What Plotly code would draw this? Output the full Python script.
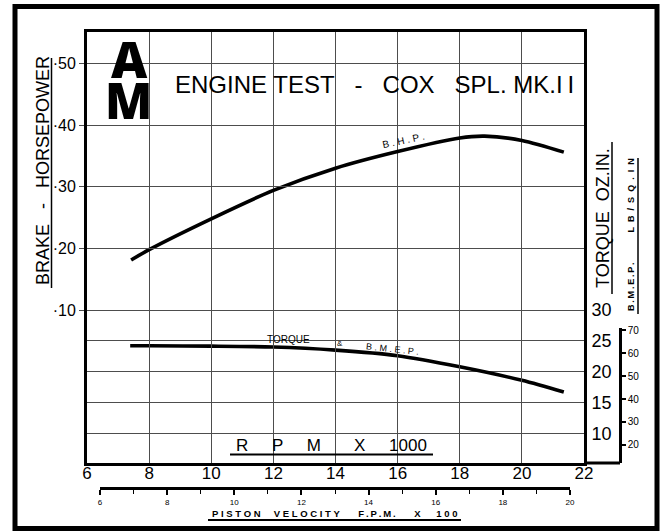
import plotly.graph_objects as go

# ---------------- data ----------------
rpm_bhp = [7.42, 8, 10, 12, 14, 16, 18, 18.8, 20, 21.35]
bhp = [0.181, 0.198, 0.248, 0.294, 0.330, 0.357, 0.379, 0.382, 0.375, 0.356]
rpm_torque = [7.39, 8, 10, 12, 14, 16, 18, 20, 21.35]
torque = [24.2, 24.2, 24.15, 24.0, 23.5, 22.6, 20.8, 18.6, 16.7]

rpm_ticks = [6, 8, 10, 12, 14, 16, 18, 20, 22]
bhp_ticks = [0.1, 0.2, 0.3, 0.4, 0.5]
bhp_labels = ["·10", "·20", "·30", "·40", "·50"]
torque_ticks = [10, 15, 20, 25, 30]
bmep_ticks = [20, 30, 40, 50, 60, 70]
piston_ticks = [6, 8, 10, 12, 14, 16, 18, 20]

# ---------------- geometry helpers (pixels -> paper) ----------------
W, H = 667, 531
L, R, T, B = 87, 620, 32, 488


def px(x):
    return (x - L) / (R - L)


def py(y):
    return (B - y) / (B - T)


FONT = "Liberation Sans, Arial, sans-serif"
GRID = "#4d4d4d"
NOBG = "rgba(0,0,0,0)"

fig = go.Figure()

fig.add_trace(go.Scatter(x=rpm_bhp, y=bhp, mode="lines",
                         line=dict(color="black", width=3.6, shape="spline", smoothing=0.8),
                         hoverinfo="skip", showlegend=False))
fig.add_trace(go.Scatter(x=rpm_torque, y=torque, mode="lines", yaxis="y2",
                         line=dict(color="black", width=3.6, shape="spline", smoothing=0.8),
                         hoverinfo="skip", showlegend=False))
# invisible carriers for the auxiliary scales
fig.add_trace(go.Scatter(x=[rpm_ticks[0], rpm_ticks[0]], y=[bmep_ticks[0], bmep_ticks[-1]],
                         yaxis="y3", mode="markers", marker=dict(opacity=0),
                         hoverinfo="skip", showlegend=False))
fig.add_trace(go.Scatter(x=[piston_ticks[0], piston_ticks[-1]], y=[bhp_ticks[0], bhp_ticks[0]],
                         xaxis="x2", mode="markers", marker=dict(opacity=0),
                         hoverinfo="skip", showlegend=False))

y_lo, y_hi = -0.148, 0.5508

fig.update_layout(
    width=W, height=H, autosize=False,
    margin=dict(l=L, r=W - R, t=T, b=H - B, pad=0),
    paper_bgcolor="white", plot_bgcolor=NOBG,
    showlegend=False,
    font=dict(family=FONT, color="black"),
    xaxis=dict(domain=[0, px(584)], range=[6, 22], anchor="y",
               tickvals=rpm_ticks, ticktext=[str(v) for v in rpm_ticks],
               showgrid=True, gridcolor=GRID, gridwidth=1.4,
               showline=True, linecolor="black", linewidth=3, mirror=True,
               ticks="", ticklabelstandoff=-7,
               tickfont=dict(size=17, family=FONT), zeroline=False),
    yaxis=dict(domain=[py(463), 1], range=[y_lo, y_hi], anchor="x",
               tickvals=bhp_ticks, ticktext=bhp_labels,
               showgrid=True, gridcolor=GRID, gridwidth=1.4,
               showline=True, linecolor="black", linewidth=3,
               ticks="outside", ticklen=5, tickcolor=GRID, tickwidth=1.4,
               ticklabelstandoff=0,
               tickfont=dict(size=16, family=FONT), zeroline=False),
    yaxis2=dict(overlaying="y", side="right", anchor="x",
                range=[20 + 100 * y_lo, 20 + 100 * y_hi],
                tickvals=torque_ticks, ticktext=[str(v) for v in torque_ticks],
                showgrid=True, gridcolor=GRID, gridwidth=1.4,
                showline=True, linecolor="black", linewidth=3,
                ticks="", ticklabelstandoff=1,
                tickfont=dict(size=18, family=FONT), zeroline=False),
    yaxis3=dict(domain=[py(463), py(328)], anchor="free", position=1, side="right",
                range=[12.17, 70.87], tickvals=bmep_ticks,
                ticktext=[str(v) for v in bmep_ticks],
                showgrid=False, showline=True, linecolor="black", linewidth=2.5,
                ticks="outside", ticklen=4, tickwidth=1.5, tickcolor="black",
                ticklabelstandoff=0,
                tickfont=dict(size=10, family=FONT), zeroline=False),
    xaxis2=dict(domain=[px(100), px(570)], anchor="free", position=0,
                range=[6, 20], tickvals=piston_ticks,
                ticktext=[str(v) for v in piston_ticks],
                showgrid=False, showline=True, linecolor="black", linewidth=3,
                ticks="outside", ticklen=5, tickwidth=1.5, tickcolor="black",
                minor=dict(dtick=1, ticklen=4, tickwidth=1.3, tickcolor="black", ticks="outside"),
                ticklabelstandoff=0,
                tickfont=dict(size=8, family=FONT), zeroline=False),
)

nb = "\u00a0"
th = "\u2009"
ann = []


def spaced(word, sep):
    return sep.join(word)


def add_text(text, x, y, size, **kw):
    d = dict(text=text, x=px(x), y=py(y), xref="paper", yref="paper",
             showarrow=False, xanchor="center", yanchor="middle",
             font=dict(size=size, family=kw.pop("family", FONT), color="black",
                       weight=kw.pop("weight", "normal")))
    d.update(kw)
    ann.append(d)


# logo + title
add_text("A", 129, 59, 50, family="Noto Sans, DejaVu Sans, sans-serif", weight=900)
add_text("M", 128, 99.5, 49, family="Noto Sans, DejaVu Sans, sans-serif", weight=900)
add_text(f"ENGINE TEST{nb*3}-{nb*3}COX{nb*3}SPL.{nb}MK.I{th}I", 374, 85, 24)

# curve labels
add_text(f"B{nb}.{nb}H{nb}.{nb}P{nb}.", 403, 140, 10, textangle=-12)
add_text("TORQUE", 288, 339, 10)
add_text("&", 340, 343, 8)
add_text(f"B{nb}.{nb}M{nb}.{nb}E{nb}.{nb}P{nb}.", 392, 349, 9, textangle=6)

# axis titles
add_text(f"R{nb*5}P{nb*5}M{nb*7}X{nb*5}1000", 331, 445, 17)
piston = (spaced("PISTON", nb) + nb * 5 + spaced("VELOCITY", nb) + nb * 7
          + spaced("F.P.M.", th) + nb * 7 + "X" + nb * 6 + spaced("100", nb))
add_text(piston, 334, 513, 9.5, weight="bold")
add_text(f"BRAKE{nb*3}-{nb*3}HORSEPOWER", 43, 171, 18, textangle=-90)
add_text(f"TORQUE{nb*2}OZ.IN.", 603, 218, 18, textangle=-90)
bmep_title = spaced("B.M.E.P.", th) + nb * 12 + spaced("LB/SQ.IN", nb * 2)
add_text(bmep_title, 631, 235, 9, textangle=-90, weight="bold")

fig.update_layout(annotations=ann)


def white_box(x0, x1, y0, y1):
    return dict(type="rect", xref="paper", yref="paper", x0=px(x0), x1=px(x1),
                y0=py(y1), y1=py(y0), line=dict(width=0), fillcolor="white", layer="between")


def hline(x0, x1, y, w):
    return dict(type="line", xref="paper", yref="paper", x0=px(x0), x1=px(x1), y0=py(y), y1=py(y),
                line=dict(color="black", width=w), layer="above")


def vline(x, y0, y1, w):
    return dict(type="line", xref="paper", yref="paper", x0=px(x), x1=px(x), y0=py(y0), y1=py(y1),
                line=dict(color="black", width=w), layer="above")


shapes = [
    white_box(89, 160, 38, 119),     # behind logo
    white_box(170, 578, 72, 98),     # behind title
    white_box(226, 437, 437, 452),   # behind R.P.M. label
    # outer frame
    dict(type="rect", xref="paper", yref="paper", x0=px(15), x1=px(657), y0=py(528.5), y1=py(6.5),
         line=dict(color="black", width=5), fillcolor=NOBG, layer="above"),
    # bottom line extending to the B.M.E.P. scale
    hline(584, 620, 463, 3),
    # underlines
    hline(230, 433, 454.5, 2),
    hline(208, 461, 520, 2),
    vline(51.5, 288, 58, 1.5),
    vline(612, 294, 142, 1.5),
    vline(638, 314, 158, 1.5),
]
fig.update_layout(shapes=shapes)

fig.write_html("out.html", config={"displayModeBar": False},
               post_script="document.body.style.margin='0px';")
